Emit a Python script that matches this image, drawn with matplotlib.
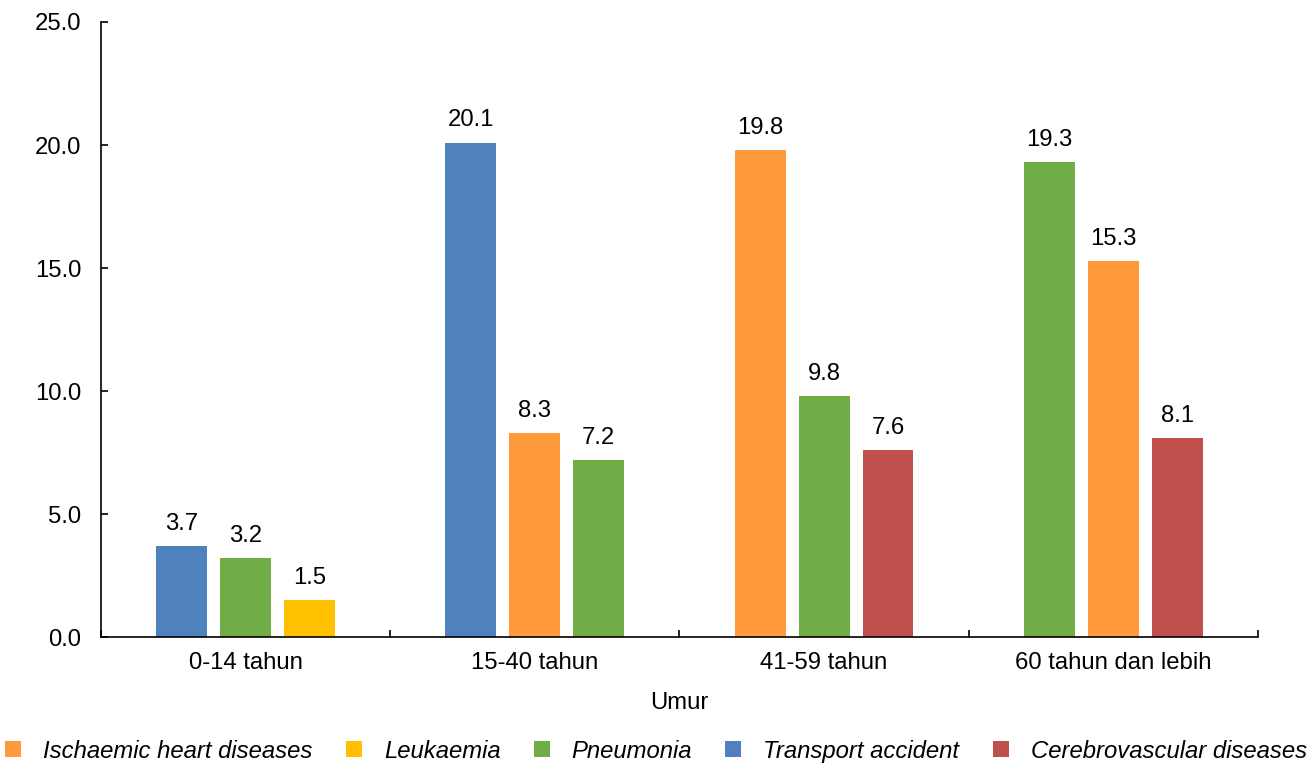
import matplotlib.pyplot as plt
import numpy as np
from matplotlib.patches import Patch

plt.rcParams['font.family'] = ['Liberation Sans', 'DejaVu Sans']

groups = ['0-14 tahun', '15-40 tahun', '41-59 tahun', '60 tahun dan lebih']
group_causes = [
    ['Transport accident', 'Pneumonia', 'Leukaemia'],
    ['Transport accident', 'Ischaemic heart diseases', 'Pneumonia'],
    ['Ischaemic heart diseases', 'Pneumonia', 'Cerebrovascular diseases'],
    ['Pneumonia', 'Ischaemic heart diseases', 'Cerebrovascular diseases'],
]
group_values = [
    [3.7, 3.2, 1.5],
    [20.1, 8.3, 7.2],
    [19.8, 9.8, 7.6],
    [19.3, 15.3, 8.1],
]
legend_order = ['Ischaemic heart diseases', 'Leukaemia', 'Pneumonia',
                'Transport accident', 'Cerebrovascular diseases']
colors = {
    'Ischaemic heart diseases': '#FF9A3C',
    'Leukaemia': '#FFC000',
    'Pneumonia': '#70AD47',
    'Transport accident': '#4F81BD',
    'Cerebrovascular diseases': '#C0504D',
}

fs = 17.2
fig = plt.figure(figsize=(13.12, 7.63), dpi=100)
ax = fig.add_axes([0.077, 0.165, 0.8818, 0.8062])

step = 0.221
width = 0.176
for gi, (causes, vals) in enumerate(zip(group_causes, group_values)):
    for k, (c, v) in enumerate(zip(causes, vals)):
        bars = ax.bar(gi + (k - 1) * step, v, width=width, color=colors[c])
        ax.bar_label(bars, fmt='%.1f', padding=8, fontsize=fs)

ax.set_xlim(-0.5, len(groups) - 0.5)
ax.set_ylim(0, 25)
ax.set_yticks(np.arange(0, 25.1, 5))
ax.set_yticklabels([f'{t:.1f}' for t in np.arange(0, 25.1, 5)])
ax.set_xticks(range(len(groups)))
ax.set_xticklabels(groups)
ax.set_xticks(np.arange(-0.5, len(groups), 1.0), minor=True)

ax.tick_params(axis='x', which='major', length=0, pad=11, labelsize=fs)
ax.tick_params(axis='x', which='minor', direction='in', length=5, width=1.2)
ax.tick_params(axis='y', direction='in', length=5, width=1.2, pad=14, labelsize=fs)
for s in ['top', 'right']:
    ax.spines[s].set_visible(False)
for s in ['left', 'bottom']:
    ax.spines[s].set_linewidth(1.2)

ax.set_xlabel('Umur', fontsize=fs, labelpad=13)

handles = [Patch(facecolor=colors[c], label=c) for c in legend_order]
leg = fig.legend(handles=handles, loc='center', bbox_to_anchor=(0.5, 0.0157),
                 ncol=5, frameon=False, fontsize=fs, handlelength=0.67,
                 handleheight=0.67, handletextpad=0.92, columnspacing=1.39,
                 borderpad=0, borderaxespad=0)
for t in leg.get_texts():
    t.set_style('italic')

fig.savefig('out.png', dpi=100)
